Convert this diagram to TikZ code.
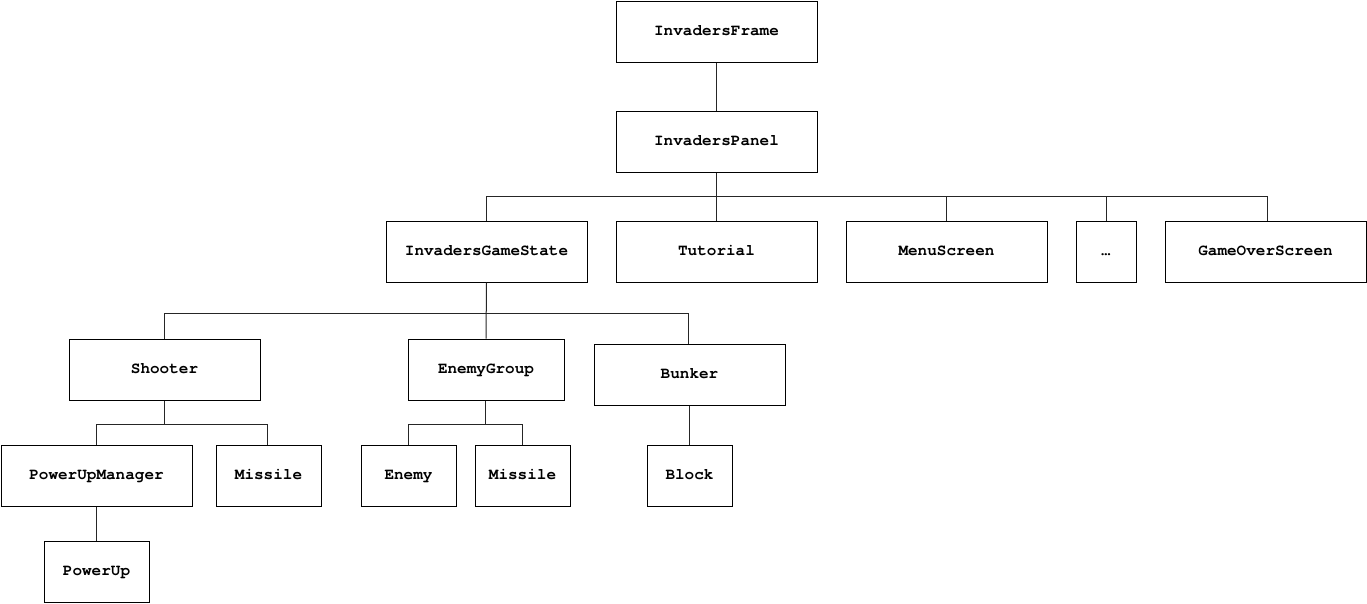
\documentclass[tikz,border=0pt]{standalone}
\usepackage{fontspec}
\setmonofont{TeX Gyre Cursor}
\begin{document}
\begin{tikzpicture}[x=1pt,y=-1pt,
  box/.style={draw=black, line width=1pt, fill=white, inner sep=0pt,
    text height=9pt, text depth=2pt,
    minimum height=61pt, font=\ttfamily\bfseries\fontsize{16}{18}\selectfont},
  conn/.style={draw=black!85, line width=1pt}]
\useasboundingbox (0,0) rectangle (1367,603);
\coordinate (b1) at (0,196);
\coordinate (b2) at (0,313);
\coordinate (b3) at (0,424);
\node[box, minimum width=201pt] (frame) at (716.5,31.5) {InvadersFrame};
\node[box, minimum width=201pt] (panel) at (716.5,141.5) {InvadersPanel};
\node[box, minimum width=201pt] (igs) at (486.5,251.5) {InvadersGameState};
\node[box, minimum width=201pt] (tut) at (716.5,251.5) {Tutorial};
\node[box, minimum width=201pt] (menu) at (946.5,251.5) {MenuScreen};
\node[box, minimum width=60pt] (dots) at (1106,251.5) {\ldots};
\node[box, minimum width=201pt] (gos) at (1265.5,251.5) {GameOverScreen};
\node[box, minimum width=191pt] (shooter) at (164.5,369.5) {Shooter};
\node[box, minimum width=156pt] (eg) at (486,369.5) {EnemyGroup};
\node[box, minimum width=191pt] (bunker) at (689.5,374.5) {Bunker};
\node[box, minimum width=191pt] (pum) at (96.5,475.5) {PowerUpManager};
\node[box, minimum width=105pt] (mis1) at (268.5,475.5) {Missile};
\node[box, minimum width=95pt] (enemy) at (408.5,475.5) {Enemy};
\node[box, minimum width=95pt] (mis2) at (522.5,475.5) {Missile};
\node[box, minimum width=85pt] (block) at (689.5,475.5) {Block};
\node[box, minimum width=105pt] (powerup) at (96.5,571.5) {PowerUp};
% connectors
\draw[conn] (frame.south) -- (panel.north);
\draw[conn] (panel.south) -- (tut.north);
\draw[conn] (igs.north) |- ([xshift=2pt]gos.north |- b1) -- ([xshift=2pt]gos.north);
\draw[conn] (menu.north) -- (menu.north |- b1);
\draw[conn] (dots.north) -- (dots.north |- b1);
\draw[conn] (igs.south) -- (eg.north);
\draw[conn] (shooter.north) |- ([xshift=-1.5pt]bunker.north |- b2) -- ([xshift=-1.5pt]bunker.north);
\draw[conn] (shooter.south) -- (shooter.south |- b3);
\draw[conn] (pum.north) |- ([xshift=-1.5pt]mis1.north |- b3) -- ([xshift=-1.5pt]mis1.north);
\draw[conn] ([xshift=-1pt]eg.south) -- ([xshift=-1pt]eg.south |- b3);
\draw[conn] (enemy.north) |- ([xshift=-0.5pt]mis2.north |- b3) -- ([xshift=-0.5pt]mis2.north);
\draw[conn] (bunker.south) -- (block.north);
\draw[conn] (pum.south) -- (powerup.north);
\end{tikzpicture}
\end{document}
